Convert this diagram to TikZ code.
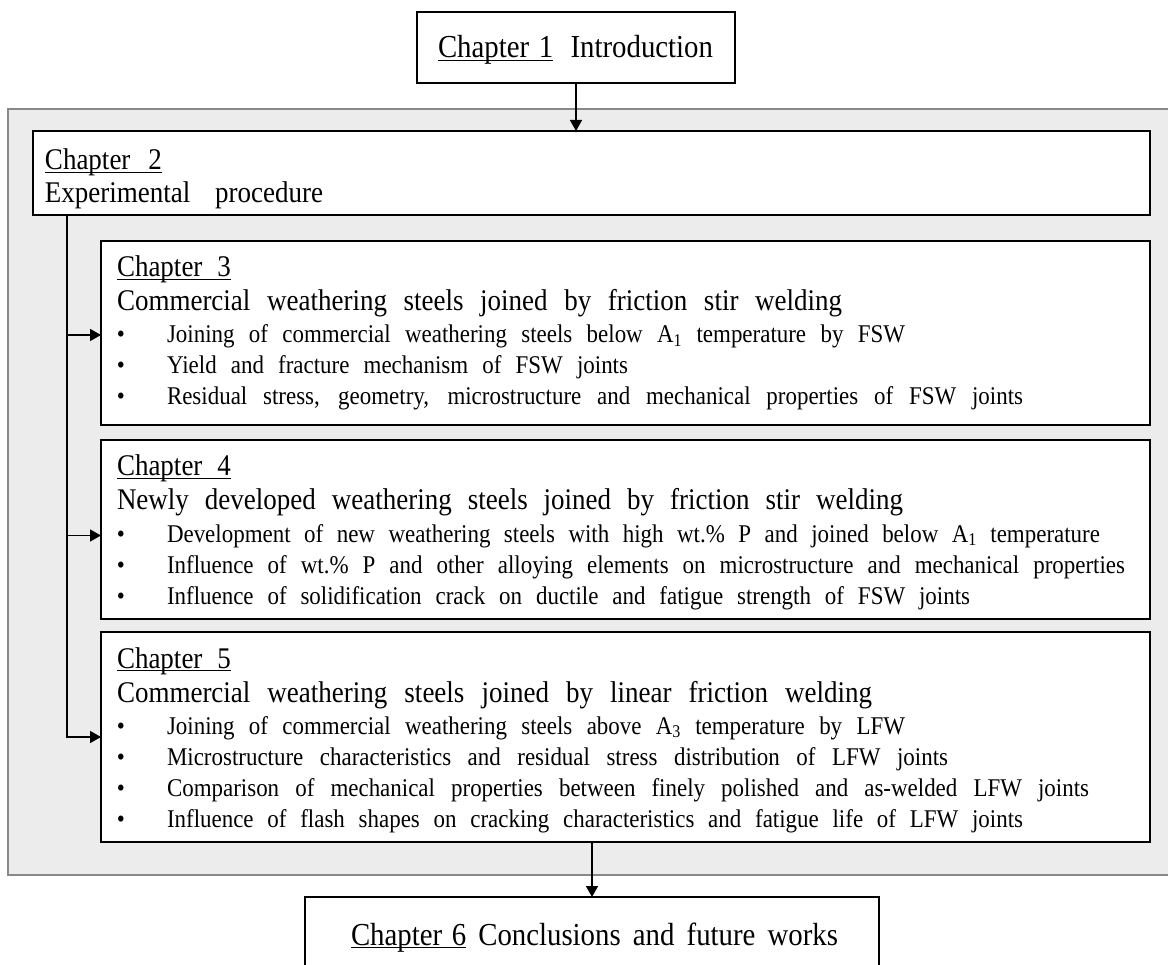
\documentclass[tikz,border=0pt]{standalone}
\usepackage{fontspec}
\setmainfont{Liberation Serif}[FakeStretch=0.9]
\usetikzlibrary{arrows.meta}
\definecolor{bgfill}{RGB}{236,236,236}
\definecolor{bgline}{RGB}{137,137,137}
\newcommand{\chul}[1]{\setbox0\hbox{#1}\rlap{\rule[-3pt]{\wd0}{1.1pt}}\box0\relax}
\newcommand{\fTop}{\fontsize{32}{36}\selectfont}
\newcommand{\fHead}{\fontsize{30}{34}\selectfont}
\newcommand{\fBul}{\fontsize{25.5}{29}\selectfont}
\newcommand{\sline}[2]{\makebox[#1pt][s]{#2}}
\tikzset{
  box/.style={draw=black, line width=1.3pt, fill=white, inner sep=0pt, outer sep=0pt, anchor=north west},
  tl/.style={anchor=base west, inner sep=0pt, outer sep=0pt},
  bl/.style={anchor=base, inner sep=0pt, outer sep=0pt},
  conn/.style={line width=1.7pt, draw=black},
  arr/.style={conn, -{Triangle[length=11pt,width=12pt]}}
}
\begin{document}
\begin{tikzpicture}[x=1pt,y=-1pt]
\useasboundingbox (0,0) rectangle (1168,965);
\clip (0,0) rectangle (1168,965);
\fill[white] (0,0) rectangle (1168,965);
% grey frame
\draw[fill=bgfill, draw=bgline, line width=1.5pt] (8,109) rectangle (1190,875);
% boxes
\node[box, minimum width=318pt, minimum height=71pt] (ch1) at (417,12) {};
\node[box, minimum width=1117pt, minimum height=84pt] (ch2) at (33,131) {};
\node[box, minimum width=1049pt, minimum height=184pt] (ch3) at (101,241) {};
\node[box, minimum width=1049pt, minimum height=179pt] (ch4) at (101,440) {};
\node[box, minimum width=1049pt, minimum height=210pt] (ch5) at (101,632) {};
\node[box, minimum width=574pt, minimum height=120pt] (ch6) at (305,897) {};
% chapter 1
\node[tl] (t1) at (438,58) {\fTop\sline{275}{\chul{Chapter\hspace{0.3em}1} Introduction}};
% chapter 2
\node[tl] (t2a) at (45,170) {\fHead\chul{Chapter\hspace{0.6em}2}};
\node[tl] (t2b) at (45,203) {\fHead\sline{278}{Experimental procedure}};
% chapter 3
\node[tl] (t3a) at (117,277) {\fHead\chul{Chapter\hspace{0.5em}3}};
\node[tl] (t3b) at (117,311) {\fHead\sline{725}{Commercial weathering steels joined by friction stir welding}};
\node[bl] (d31) at (121,343) {\fBul\textbullet};
\node[tl] (t31) at (167,343) {\fBul\sline{738}{Joining of commercial weathering steels below A\textsubscript{1} temperature by FSW}};
\node[bl] (d32) at (121,374) {\fBul\textbullet};
\node[tl] (t32) at (167,374) {\fBul\sline{461}{Yield and fracture mechanism of FSW joints}};
\node[bl] (d33) at (121,405) {\fBul\textbullet};
\node[tl] (t33) at (167,405) {\fBul\sline{856}{Residual stress, geometry, microstructure and mechanical properties of FSW joints}};
% chapter 4
\node[tl] (t4a) at (117,476) {\fHead\chul{Chapter\hspace{0.5em}4}};
\node[tl] (t4b) at (117,510) {\fHead\sline{786}{Newly developed weathering steels joined by friction stir welding}};
\node[bl] (d41) at (121,542) {\fBul\textbullet};
\node[tl] (t41) at (167,542) {\fBul\sline{933}{Development of new weathering steels with high wt.\% P and joined below A\textsubscript{1} temperature}};
\node[bl] (d42) at (121,573) {\fBul\textbullet};
\node[tl] (t42) at (167,573) {\fBul\sline{958}{Influence of wt.\% P and other alloying elements on microstructure and mechanical properties}};
\node[bl] (d43) at (121,604) {\fBul\textbullet};
\node[tl] (t43) at (167,604) {\fBul\sline{803}{Influence of solidification crack on ductile and fatigue strength of FSW joints}};
% chapter 5
\node[tl] (t5a) at (117,668) {\fHead\chul{Chapter\hspace{0.5em}5}};
\node[tl] (t5b) at (117,702) {\fHead\sline{755}{Commercial weathering steels joined by linear friction welding}};
\node[bl] (d51) at (121,734) {\fBul\textbullet};
\node[tl] (t51) at (167,734) {\fBul\sline{738}{Joining of commercial weathering steels above A\textsubscript{3} temperature by LFW}};
\node[bl] (d52) at (121,765) {\fBul\textbullet};
\node[tl] (t52) at (167,765) {\fBul\sline{781}{Microstructure characteristics and residual stress distribution of LFW joints}};
\node[bl] (d53) at (121,796) {\fBul\textbullet};
\node[tl] (t53) at (167,796) {\fBul\sline{922}{Comparison of mechanical properties between finely polished and as-welded LFW joints}};
\node[bl] (d54) at (121,827) {\fBul\textbullet};
\node[tl] (t54) at (167,827) {\fBul\sline{856}{Influence of flash shapes on cracking characteristics and fatigue life of LFW joints}};
% chapter 6
\node[tl] (t6) at (351,945) {\fTop\sline{487}{\chul{Chapter\hspace{0.3em}6} Conclusions and future works}};
% connectors
\coordinate (trunk) at (67,215);
\draw[arr] (ch1.south) -- (ch1.south |- ch2.north);
\draw[arr] (trunk) |- (ch5.west);
\draw[arr] ([yshift=-2pt]trunk |- ch3.west) -- ([yshift=-2pt]ch3.west);
\draw[arr] ([yshift=-6pt]trunk |- ch4.west) -- ([yshift=-6pt]ch4.west);
\draw[arr] (ch6.north |- ch5.south) -- (ch6.north);
\end{tikzpicture}
\end{document}
